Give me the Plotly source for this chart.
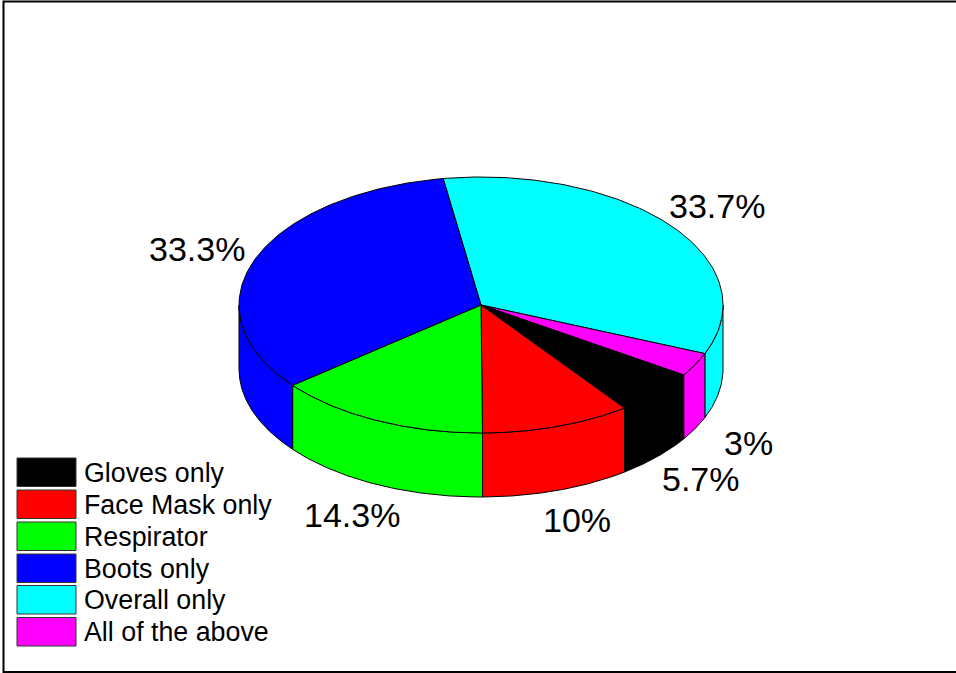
import numpy as np
import plotly.graph_objects as go

categories = ["Gloves only", "Face Mask only", "Respirator", "Boots only", "Overall only", "All of the above"]
values = [5.7, 10, 14.3, 33.3, 33.7, 3]
value_labels = ["5.7%", "10%", "14.3%", "33.3%", "33.7%", "3%"]
colors = ["#000000", "#ff0000", "#00ff00", "#0000ff", "#00ffff", "#ff00ff"]

W, H = 956, 673
CX, CY, RX, RY, DEPTH = 481, 305, 242, 128, 64
START_DEG = 99.0  # boundary of Overall/Boots; slices run clockwise from Overall
order = [4, 5, 0, 1, 2, 3]
label_pos = {0: (700.5, 478.5), 1: (577, 519.5), 2: (351.5, 514.5), 3: (197, 248.5), 4: (717, 205.5), 5: (748, 442.5)}

fig = go.Figure()
total = sum(values)
angles = {}
a = START_DEG
for i in order:
    b = a - values[i] / total * 360
    angles[i] = (a, b)
    a = b

def arc(a0, a1, n=120):
    t = np.radians(np.linspace(a0, a1, n))
    return CX + RX * np.cos(t), CY - RY * np.sin(t)

# side walls: only the part of each slice on the front half of the ellipse
for i in order:
    a0, a1 = angles[i]
    for front_hi, front_lo in ((0, -180), (-360, -540)):
        s0, s1 = min(a0, front_hi), max(a1, front_lo)
        if s0 > s1:
            x, y = arc(s0, s1)
            xs = np.concatenate([x, x[::-1], x[:1]])
            ys = np.concatenate([y, y[::-1] + DEPTH, y[:1]])
            fig.add_trace(go.Scatter(x=xs, y=ys, mode="lines", fill="toself", fillcolor=colors[i],
                                     line=dict(color="black", width=1), hoverinfo="skip", showlegend=False))

# top faces
for i in order:
    a0, a1 = angles[i]
    x, y = arc(a0, a1)
    xs = np.concatenate([[CX], x, [CX]])
    ys = np.concatenate([[CY], y, [CY]])
    fig.add_trace(go.Scatter(x=xs, y=ys, mode="lines", fill="toself", fillcolor=colors[i],
                             line=dict(color="black", width=1), name=categories[i],
                             hoverinfo="skip", showlegend=False))

# value labels
for i, t in enumerate(value_labels):
    fig.add_annotation(x=label_pos[i][0], y=label_pos[i][1], text=t, showarrow=False,
                       font=dict(size=34, color="black"))

# legend
shapes = []
swatch_tops = [458, 490, 522, 554, 585.5, 617.5]
for i, cat in enumerate(categories):
    shapes.append(dict(type="rect", xref="x", yref="y", x0=17, x1=76, y0=swatch_tops[i], y1=swatch_tops[i] + 28.5,
                       fillcolor=colors[i], line=dict(color="#333333", width=1)))
    fig.add_annotation(x=82, y=swatch_tops[i] + 14.5, text=cat, showarrow=False, xanchor="left",
                       font=dict(size=26.8, color="black"))

# frame
shapes.append(dict(type="rect", xref="x", yref="y", x0=3.5, x1=W + 5, y0=1.5, y1=672, line=dict(color="black", width=2)))

fig.update_layout(
    width=W, height=H, margin=dict(l=0, r=0, t=0, b=0), showlegend=False,
    paper_bgcolor="white", plot_bgcolor="white", shapes=shapes,
    font=dict(family="Liberation Sans, Arial, sans-serif"),
    xaxis=dict(range=[0, W], visible=False, fixedrange=True),
    yaxis=dict(range=[H, 0], visible=False, fixedrange=True),
)
fig.write_html("out.html", config={"displayModeBar": False},
               post_script="document.body.style.margin='0';document.body.style.overflow='hidden';")
